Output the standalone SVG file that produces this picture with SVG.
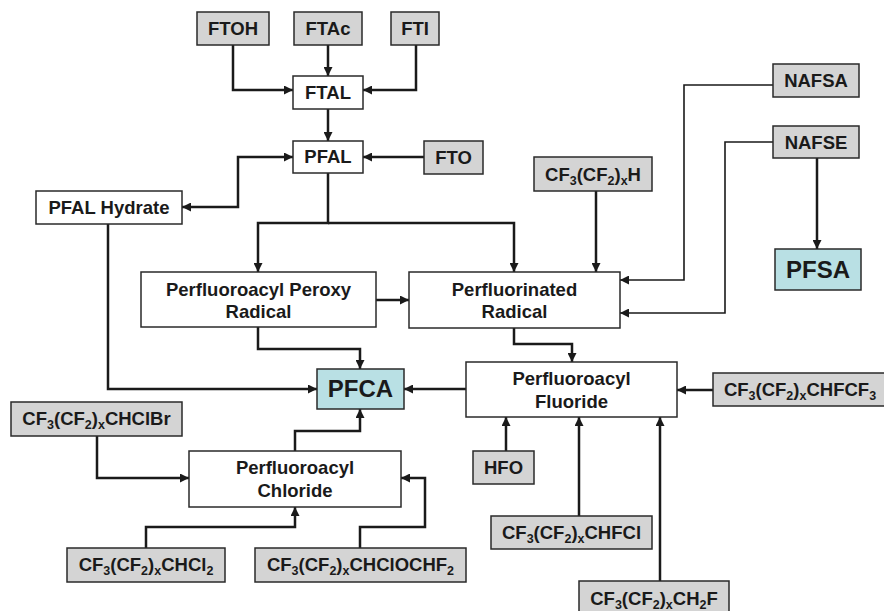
<svg xmlns="http://www.w3.org/2000/svg" width="884" height="611" viewBox="0 0 884 611">
<style>
.box{stroke:#2a2a2a;stroke-width:1.5}
.g{fill:#d4d4d4}
.w{fill:#ffffff}
.c{fill:#b9e0e4}
text{font-family:"Liberation Sans",Arial,sans-serif;font-weight:bold;font-size:18.5px;fill:#1a1a1a;text-anchor:middle}
.big{font-size:24px}
.s{font-size:12.5px}
.con path{fill:none;stroke:#1a1a1a;stroke-width:2.5}
.con path.thin{stroke-width:1.6}
</style>
<defs>
<marker id="ah" viewBox="0 0 10 10" refX="10" refY="5" markerWidth="9" markerHeight="9" markerUnits="userSpaceOnUse" orient="auto-start-reverse">
<path d="M0,0 L10,5 L0,10 z" fill="#1a1a1a"/>
</marker>
</defs>
<g class="con">
<path d="M233,45 V90 H293" marker-end="url(#ah)"/>
<path d="M328,45 V76" marker-end="url(#ah)"/>
<path d="M416,45 V90 H363" marker-end="url(#ah)"/>
<path d="M328,109 V141" marker-end="url(#ah)"/>
<path d="M424,157 H363" marker-end="url(#ah)"/>
<path d="M293,157 H238 V207 H182" marker-start="url(#ah)" marker-end="url(#ah)"/>
<path d="M328,173 V223 H258 V272" marker-end="url(#ah)"/>
<path d="M328,223 H514 V272" marker-end="url(#ah)"/>
<path d="M376,300 H409" marker-end="url(#ah)"/>
<path d="M596,191 V272" marker-end="url(#ah)"/>
<path class="thin" d="M773,85 H684 V280 H620" marker-end="url(#ah)"/>
<path class="thin" d="M773,142 H725 V313 H620" marker-end="url(#ah)"/>
<path d="M817,158 V249" marker-end="url(#ah)"/>
<path d="M514,328 V344 H572 V362" marker-end="url(#ah)"/>
<path d="M258,327 V349 H360 V369" marker-end="url(#ah)"/>
<path d="M108,224 V389 H317" marker-end="url(#ah)"/>
<path d="M466,389 H404" marker-end="url(#ah)"/>
<path d="M713,390 H677" marker-end="url(#ah)"/>
<path d="M506,451 V417" marker-end="url(#ah)"/>
<path d="M579,516 V417" marker-end="url(#ah)"/>
<path d="M660,581 V417" marker-end="url(#ah)"/>
<path d="M295,451 V431 H360 V409" marker-end="url(#ah)"/>
<path d="M97,436 V478 H189" marker-end="url(#ah)"/>
<path d="M146,548 V527 H295 V507" marker-end="url(#ah)"/>
<path d="M360,548 V527 H425 V478 H401" marker-end="url(#ah)"/>
</g>
<g id="ftoh"><rect class="box g" x="197" y="12" width="72" height="33"/><text x="233" y="35">FTOH</text></g>
<g id="ftac"><rect class="box g" x="294" y="12" width="68" height="33"/><text x="328" y="35">FTAc</text></g>
<g id="fti"><rect class="box g" x="391" y="12" width="48" height="33"/><text x="415" y="35">FTI</text></g>
<g id="ftal"><rect class="box w" x="293" y="76" width="70" height="33"/><text x="328" y="99">FTAL</text></g>
<g id="pfal"><rect class="box w" x="293" y="141" width="70" height="32"/><text x="328" y="163">PFAL</text></g>
<g id="fto"><rect class="box g" x="424" y="141" width="59" height="33"/><text x="453.5" y="164">FTO</text></g>
<g id="pfalh"><rect class="box w" x="36" y="191" width="146" height="33"/><text x="109" y="214">PFAL Hydrate</text></g>
<g id="cfh"><rect class="box g" x="534" y="157" width="118" height="34"/><text x="593" y="181">CF<tspan class="s" dy="4">3</tspan><tspan dy="-4">(CF</tspan><tspan class="s" dy="4">2</tspan><tspan dy="-4">)</tspan><tspan class="s" dy="4">x</tspan><tspan dy="-4">H</tspan></text></g>
<g id="nafsa"><rect class="box g" x="773" y="64" width="86" height="33"/><text x="816" y="87">NAFSA</text></g>
<g id="nafse"><rect class="box g" x="773" y="126" width="86" height="32"/><text x="816" y="149">NAFSE</text></g>
<g id="pfsa"><rect class="box c" x="775" y="249" width="86" height="41"/><text class="big" x="818" y="278">PFSA</text></g>
<g id="peroxy"><rect class="box w" x="141" y="272" width="235" height="55"/><text x="258.5" y="296">Perfluoroacyl Peroxy</text><text x="258.5" y="318">Radical</text></g>
<g id="pfrad"><rect class="box w" x="409" y="272" width="211" height="56"/><text x="514.5" y="296">Perfluorinated</text><text x="514.5" y="318">Radical</text></g>
<g id="pfca"><rect class="box c" x="317" y="369" width="87" height="40"/><text class="big" x="360.5" y="397">PFCA</text></g>
<g id="fluoride"><rect class="box w" x="466" y="362" width="211" height="55"/><text x="571.5" y="385">Perfluoroacyl</text><text x="571.5" y="408">Fluoride</text></g>
<g id="chfcf3"><rect class="box g" x="713" y="373" width="176" height="33"/><text x="800" y="396">CF<tspan class="s" dy="4">3</tspan><tspan dy="-4">(CF</tspan><tspan class="s" dy="4">2</tspan><tspan dy="-4">)</tspan><tspan class="s" dy="4">x</tspan><tspan dy="-4">CHFCF</tspan><tspan class="s" dy="4">3</tspan></text></g>
<g id="chclbr"><rect class="box g" x="11" y="402" width="171" height="34"/><text x="96.5" y="425">CF<tspan class="s" dy="4">3</tspan><tspan dy="-4">(CF</tspan><tspan class="s" dy="4">2</tspan><tspan dy="-4">)</tspan><tspan class="s" dy="4">x</tspan><tspan dy="-4">CHClBr</tspan></text></g>
<g id="chloride"><rect class="box w" x="189" y="451" width="212" height="56"/><text x="295" y="474">Perfluoroacyl</text><text x="295" y="497">Chloride</text></g>
<g id="chcl2"><rect class="box g" x="67" y="548" width="158" height="34"/><text x="146" y="571">CF<tspan class="s" dy="4">3</tspan><tspan dy="-4">(CF</tspan><tspan class="s" dy="4">2</tspan><tspan dy="-4">)</tspan><tspan class="s" dy="4">x</tspan><tspan dy="-4">CHCl</tspan><tspan class="s" dy="4">2</tspan></text></g>
<g id="chclochf2"><rect class="box g" x="255" y="548" width="211" height="34"/><text x="360.5" y="571">CF<tspan class="s" dy="4">3</tspan><tspan dy="-4">(CF</tspan><tspan class="s" dy="4">2</tspan><tspan dy="-4">)</tspan><tspan class="s" dy="4">x</tspan><tspan dy="-4">CHClOCHF</tspan><tspan class="s" dy="4">2</tspan></text></g>
<g id="hfo"><rect class="box g" x="473" y="451" width="61" height="33"/><text x="503.5" y="474">HFO</text></g>
<g id="chfcl"><rect class="box g" x="491" y="516" width="161" height="33"/><text x="571.5" y="539">CF<tspan class="s" dy="4">3</tspan><tspan dy="-4">(CF</tspan><tspan class="s" dy="4">2</tspan><tspan dy="-4">)</tspan><tspan class="s" dy="4">x</tspan><tspan dy="-4">CHFCl</tspan></text></g>
<g id="ch2f"><rect class="box g" x="579" y="581" width="150" height="34"/><text x="654" y="605">CF<tspan class="s" dy="4">3</tspan><tspan dy="-4">(CF</tspan><tspan class="s" dy="4">2</tspan><tspan dy="-4">)</tspan><tspan class="s" dy="4">x</tspan><tspan dy="-4">CH</tspan><tspan class="s" dy="4">2</tspan><tspan dy="-4">F</tspan></text></g>
</svg>
